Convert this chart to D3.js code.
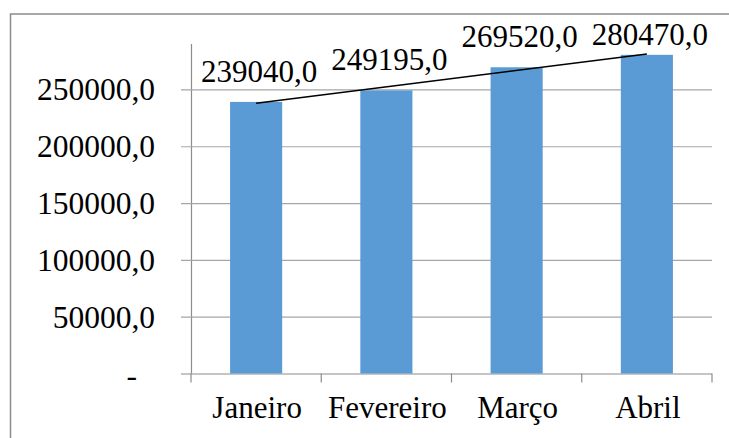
<!DOCTYPE html>
<html>
<head>
<meta charset="utf-8">
<script src="https://cdn.jsdelivr.net/npm/d3@7"></script>
</head>
<body style="margin:0">
<svg id="chart" width="729" height="438"></svg>
<script>
// data
const months = ["Janeiro", "Fevereiro", "Março", "Abril"];
const values = [239040, 249195, 269520, 280470];
const yTicks = [0, 50000, 100000, 150000, 200000, 250000];

const FONT = "'Liberation Serif', serif";
const W = 729, H = 438;
const margin = { top: 44, right: 17, bottom: 64.5, left: 191 };
const width = W - margin.left - margin.right,
    height = H - margin.top - margin.bottom;

const svg = d3.select("#chart")
    .style("font-family", FONT);

// chart area border (runs off the right and bottom edges)
svg.append("rect")
    .attr("x", 10.5).attr("y", 14)
    .attr("width", 800).attr("height", 500)
    .attr("fill", "none")
    .attr("stroke", "#8c8c8c")
    .attr("stroke-width", 1.5);

const g = svg.append("g")
    .attr("transform", "translate(" + margin.left + "," + margin.top + ")");

const x = d3.scaleBand().domain(months).range([0, width]).paddingInner(0.6).paddingOuter(0.3);
const y = d3.scaleLinear().domain([0, 290000]).range([height, 0]);

const fmt = v => v === 0 ? "-" : d3.format(".1f")(v).replace(".", ",");

// gridlines + y axis
const yAxis = g.append("g")
    .call(d3.axisLeft(y).tickValues(yTicks).tickSize(10).tickPadding(26).tickFormat(fmt));
yAxis.attr("font-family", null).attr("font-size", null);
yAxis.select(".domain").attr("stroke", "#8c8c8c").attr("stroke-width", 1.2).attr("d", "M0.5," + height + "V0");
yAxis.selectAll(".tick line")
    .attr("x2", width)
    .attr("x1", -10)
    .attr("stroke", d => d === 0 ? "#8c8c8c" : "#a6a6a6")
    .attr("stroke-width", 1.2);
yAxis.selectAll(".tick text")
    .style("font-family", FONT)
    .style("font-size", "31.5px")
    .attr("fill", "#000")
    .attr("dx", d => d === 0 ? -18 : 0)
    .attr("dy", d => d === 0 ? "0.38em" : "0.33em");

// x axis with ticks between categories
const bounds = months.map((m, i) => i * width / months.length).concat([width]);
const xAxis = g.append("g").attr("transform", "translate(0," + height + ")");
xAxis.selectAll("line")
    .data(bounds)
    .join("line")
    .attr("x1", d => d).attr("x2", d => d)
    .attr("y1", 0).attr("y2", 9)
    .attr("stroke", "#8c8c8c")
    .attr("stroke-width", 1.2);
xAxis.selectAll("text")
    .data(months)
    .join("text")
    .attr("x", d => x(d) + x.bandwidth() / 2 + 1)
    .attr("y", 44.5)
    .attr("text-anchor", "middle")
    .style("font-family", FONT)
    .style("font-size", "31px")
    .attr("fill", "#000")
    .text(d => d);

// bars
g.selectAll(".bar")
    .data(values)
    .join("rect")
    .attr("class", "bar")
    .attr("x", (d, i) => x(months[i]))
    .attr("width", x.bandwidth())
    .attr("y", d => y(d))
    .attr("height", d => height - y(d))
    .attr("fill", "#5b9bd5");

// linear trendline (least squares over the 4 points)
const n = values.length;
const mx = d3.mean(values, (d, i) => i);
const my = d3.mean(values);
const slope = d3.sum(values, (d, i) => (i - mx) * (d - my)) / d3.sum(values, (d, i) => (i - mx) * (i - mx));
const trend = i => my + slope * (i - mx);
g.append("line")
    .attr("x1", x(months[0]) + x.bandwidth() / 2)
    .attr("y1", y(trend(0)))
    .attr("x2", x(months[n - 1]) + x.bandwidth() / 2)
    .attr("y2", y(trend(n - 1)))
    .attr("stroke", "#000")
    .attr("stroke-width", 1.5);

// data labels (kept inside the chart area)
g.selectAll(".label")
    .data(values)
    .join("text")
    .attr("class", "label")
    .attr("x", (d, i) => x(months[i]) + x.bandwidth() / 2 + 3)
    .attr("y", d => Math.max(y(d) - 20, 1))
    .attr("text-anchor", "middle")
    .style("font-family", FONT)
    .style("font-size", "31px")
    .attr("fill", "#000")
    .text(fmt);
</script>
</body>
</html>
